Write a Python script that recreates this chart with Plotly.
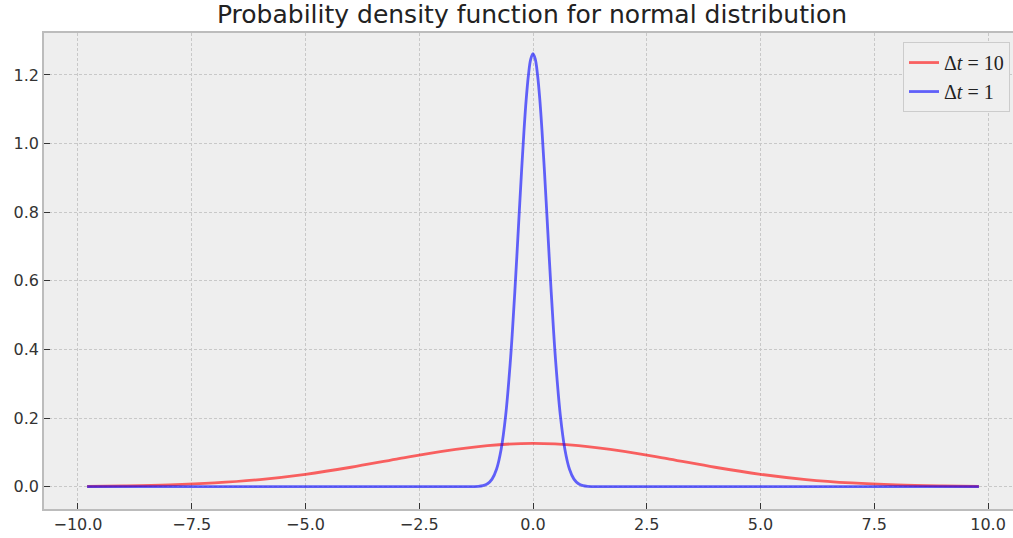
import plotly.graph_objects as go

# ---- data ----
red_x = [-9.8, -9, -8, -7, -6, -5, -4, -3, -2, -1, 0, 1, 2, 3, 4, 5, 6, 7, 8, 9, 9.8]
red_y = [0.0010, 0.0022, 0.0051, 0.0109, 0.0209, 0.0362, 0.0567, 0.0805, 0.1033, 0.1200,
         0.1262, 0.1200, 0.1033, 0.0805, 0.0567, 0.0362, 0.0209, 0.0109, 0.0051, 0.0022, 0.0010]

blue_x = [-9.8, -1.5, -1.3, -1.2, -1.1, -1.0, -0.9, -0.8, -0.7, -0.6, -0.5, -0.45, -0.4, -0.35,
          -0.3, -0.25, -0.2, -0.15, -0.1, -0.05, 0.0, 0.05, 0.1, 0.15, 0.2, 0.25, 0.3, 0.35,
          0.4, 0.45, 0.5, 0.6, 0.7, 0.8, 0.9, 1.0, 1.1, 1.2, 1.3, 1.5, 9.8]
blue_y = [0.0, 0.0, 0.0003, 0.0009, 0.003, 0.0085, 0.022, 0.0514, 0.109, 0.2086, 0.3616, 0.4585,
          0.567, 0.684, 0.8046, 0.923, 1.033, 1.128, 1.200, 1.246, 1.262, 1.246, 1.200, 1.128,
          1.033, 0.923, 0.8046, 0.684, 0.567, 0.4585, 0.3616, 0.2086, 0.109, 0.0514, 0.022,
          0.0085, 0.003, 0.0009, 0.0003, 0.0, 0.0]

series_names = ["Δ<i>t</i> = 10", "Δ<i>t</i> = 1"]
x_tick_vals = [-10, -7.5, -5, -2.5, 0, 2.5, 5, 7.5, 10]
x_tick_text = ["−10.0", "−7.5", "−5.0", "−2.5", "0.0", "2.5", "5.0", "7.5", "10.0"]
y_tick_vals = [0, 0.2, 0.4, 0.6, 0.8, 1.0, 1.2]
y_tick_text = ["0.0", "0.2", "0.4", "0.6", "0.8", "1.0", "1.2"]
title_text = "Probability density function for normal distribution"

fig = go.Figure()
fig.add_trace(go.Scatter(x=red_x, y=red_y, mode="lines", name=series_names[0],
                         line=dict(color="rgba(255,0,0,0.6)", width=2.8, shape="spline")))
fig.add_trace(go.Scatter(x=blue_x, y=blue_y, mode="lines", name=series_names[1],
                         line=dict(color="rgba(0,0,255,0.6)", width=2.8, shape="spline")))

axis_common = dict(
    showgrid=True, gridcolor="#c8c8c8", griddash="3px,2px", gridwidth=1,
    zeroline=False, ticks="inside", ticklen=6, tickcolor="#333333", tickwidth=1.3,
    tickfont=dict(family="DejaVu Sans", size=16, color="#333333"),
    showline=True, linecolor="#bcbcbc", linewidth=1.5,
)

fig.update_layout(
    width=1013, height=538,
    margin=dict(l=44, r=0, t=33, b=29),
    paper_bgcolor="white", plot_bgcolor="#eeeeee",
    title=dict(text=title_text, x=0.5036, xref="paper", xanchor="center",
               y=1 - 14 / 538, yanchor="middle", yref="container",
               font=dict(family="DejaVu Sans", size=25, color="#222222")),
    xaxis=dict(range=[-10.747, 10.549], tickvals=x_tick_vals, ticktext=x_tick_text,
               mirror=True, **axis_common),
    yaxis=dict(range=[-0.065, 1.3224], tickvals=y_tick_vals, ticktext=y_tick_text,
               **axis_common),
    legend=dict(x=0.9969, y=0.981, xanchor="right", yanchor="top",
                bgcolor="#efefef", bordercolor="#cccccc", borderwidth=1,
                font=dict(family="Liberation Serif", size=20, color="#222222")),
    showlegend=True,
)

fig.write_html("out.html")
